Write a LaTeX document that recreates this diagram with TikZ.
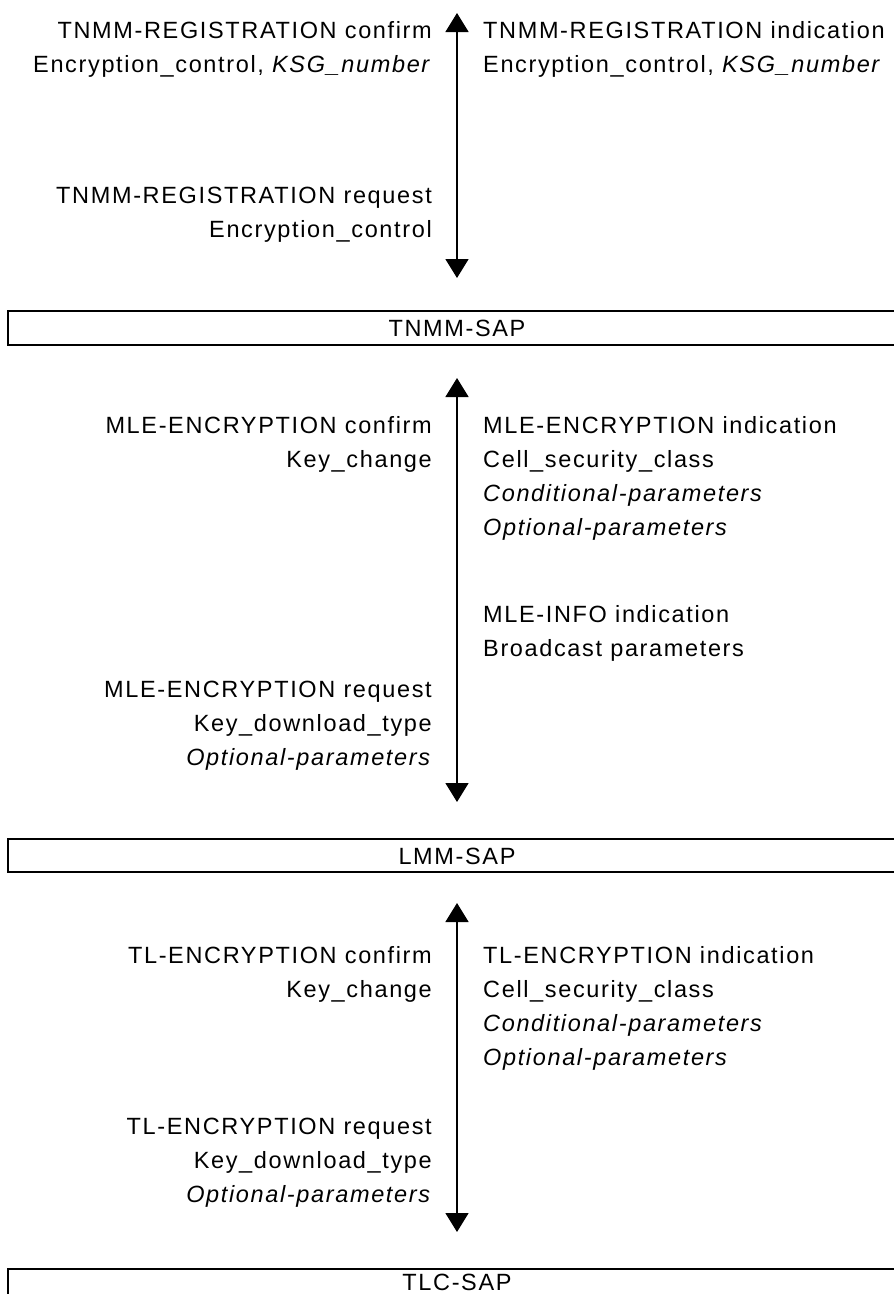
\documentclass[tikz,border=0pt]{standalone}
\usepackage{fontspec}
\setmainfont{Liberation Sans}[LetterSpace=7]
\usetikzlibrary{arrows.meta}
\begin{document}
\begin{tikzpicture}[x=1pt,y=-1pt,
  lt/.style={anchor=base east,inner sep=0pt,font=\fontsize{23.5}{25}\selectfont},
  rt/.style={anchor=base west,inner sep=0pt,font=\fontsize{23.5}{25}\selectfont},
  saptext/.style={anchor=base,inner sep=0pt,font=\fontsize{23.5}{25}\selectfont},
  sapbar/.style={draw,line width=2.6pt},
  dblarrow/.style={line width=1.6pt,{Triangle[width=23pt,length=19pt]}-{Triangle[width=23pt,length=19pt]}}
]
\useasboundingbox (0,0) rectangle (894,1294);
% block 1
\coordinate (a1t) at (457,13);
\coordinate (a1b) at (457,278);
\draw[dblarrow] (a1t) -- (a1b);
\node[lt] (l11) at (432,38) {TNMM-REGISTRATION confirm};
\node[lt] (l12) at (432,72) {Encryption\_control, \textit{KSG\_number}};
\node[rt] (r11) at (483,38) {TNMM-REGISTRATION indication};
\node[rt] (r12) at (483,72) {Encryption\_control, \textit{KSG\_number}};
\node[lt] (l13) at (432,203) {TNMM-REGISTRATION request};
\node[lt] (l14) at (432,237) {Encryption\_control};
\draw[sapbar] (8,311) rectangle (910,345);
\node[saptext] (sap1) at (457,336.5) {TNMM-SAP};
% block 2
\coordinate (a2t) at (457,378);
\coordinate (a2b) at (457,802);
\draw[dblarrow] (a2t) -- (a2b);
\node[lt] (l21) at (432,433) {MLE-ENCRYPTION confirm};
\node[lt] (l22) at (432,467) {Key\_change};
\node[rt] (r21) at (483,433) {MLE-ENCRYPTION indication};
\node[rt] (r22) at (483,467) {Cell\_security\_class};
\node[rt] (r23) at (483,501) {\textit{Conditional-parameters}};
\node[rt] (r24) at (483,535) {\textit{Optional-parameters}};
\node[rt] (r25) at (483,622) {MLE-INFO indication};
\node[rt] (r26) at (483,656) {Broadcast parameters};
\node[lt] (l23) at (432,697) {MLE-ENCRYPTION request};
\node[lt] (l24) at (432,731) {Key\_download\_type};
\node[lt] (l25) at (432,765) {\textit{Optional-parameters}};
\draw[sapbar] (8,839) rectangle (910,872);
\node[saptext] (sap2) at (457,864) {LMM-SAP};
% block 3
\coordinate (a3t) at (457,903);
\coordinate (a3b) at (457,1232);
\draw[dblarrow] (a3t) -- (a3b);
\node[lt] (l31) at (432,963) {TL-ENCRYPTION confirm};
\node[lt] (l32) at (432,997) {Key\_change};
\node[rt] (r31) at (483,963) {TL-ENCRYPTION indication};
\node[rt] (r32) at (483,997) {Cell\_security\_class};
\node[rt] (r33) at (483,1031) {\textit{Conditional-parameters}};
\node[rt] (r34) at (483,1065) {\textit{Optional-parameters}};
\node[lt] (l33) at (432,1134) {TL-ENCRYPTION request};
\node[lt] (l34) at (432,1168) {Key\_download\_type};
\node[lt] (l35) at (432,1202) {\textit{Optional-parameters}};
\draw[sapbar] (8,1269) rectangle (910,1303);
\node[saptext] (sap3) at (457,1290) {TLC-SAP};
\end{tikzpicture}
\end{document}
